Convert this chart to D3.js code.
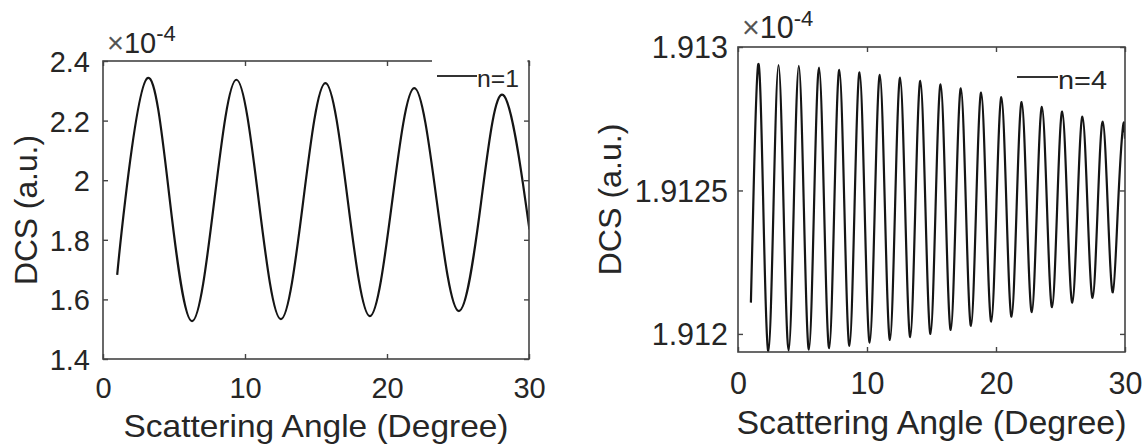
<!DOCTYPE html>
<html><head><meta charset="utf-8">
<script src="https://cdn.jsdelivr.net/npm/d3@7"></script>
<style>
body{margin:0;background:#fff}
text{font-family:Arial,"Liberation Sans",sans-serif;fill:#262626}
</style>
</head><body>
<svg id="c" width="1146" height="447"></svg>
<script>
// ---------- data (values in units of 1e-4) ----------
const angles1 = [1.0, 1.57, 3.14, 4.70, 6.27, 7.84, 9.40, 10.97, 12.53, 14.10, 15.66, 17.23, 18.79, 20.36, 21.92, 23.49, 25.05, 26.62, 28.18, 29.75, 30.0];
const dcs1    = [1.682, 1.935, 2.343, 1.935, 1.527, 1.932, 2.337, 1.930, 1.534, 1.930, 2.326, 1.935, 1.544, 1.927, 2.309, 1.935, 1.561, 1.924, 2.286, 1.930, 1.845];

const angles4 = [1.0, 1.178, 1.571, 1.963, 2.356, 2.749, 3.142, 3.534, 3.927, 4.320, 4.712, 5.105, 5.498, 5.890, 6.283, 6.676, 7.069, 7.461, 7.854, 8.247, 8.639, 9.032, 9.425, 9.817, 10.210, 10.603, 10.996, 11.388, 11.781, 12.174, 12.566, 12.959, 13.352, 13.744, 14.137, 14.530, 14.923, 15.315, 15.708, 16.101, 16.493, 16.886, 17.279, 17.671, 18.064, 18.457, 18.850, 19.242, 19.635, 20.028, 20.420, 20.813, 21.206, 21.598, 21.991, 22.384, 22.777, 23.169, 23.562, 23.955, 24.347, 24.740, 25.133, 25.525, 25.918, 26.311, 26.704, 27.096, 27.489, 27.882, 28.274, 28.667, 29.060, 29.452, 29.845, 30.0];
const dcs4 = [1.912109, 1.91244, 1.912940, 1.91244, 1.911940, 1.91244, 1.912937, 1.91244, 1.911942, 1.91244, 1.912934, 1.91244, 1.911945, 1.91244, 1.912928, 1.91244, 1.911950, 1.91244, 1.912920, 1.91244, 1.911958, 1.91244, 1.912912, 1.91244, 1.911970, 1.91244, 1.912903, 1.91244, 1.911979, 1.91244, 1.912893, 1.91244, 1.911989, 1.91244, 1.912882, 1.91244, 1.912000, 1.91244, 1.912870, 1.91244, 1.912014, 1.91244, 1.912856, 1.91244, 1.912028, 1.91244, 1.912841, 1.91244, 1.912043, 1.91244, 1.912825, 1.91244, 1.912060, 1.91244, 1.912808, 1.91244, 1.912076, 1.91244, 1.912791, 1.91244, 1.912093, 1.91244, 1.912775, 1.91244, 1.912109, 1.91244, 1.912757, 1.91244, 1.912126, 1.91244, 1.912740, 1.91244, 1.912145, 1.91244, 1.912723, 1.912680];

const xTicks  = [0, 10, 20, 30];
const yTicks1 = [1.4, 1.6, 1.8, 2, 2.2, 2.4];
const yTicks4 = [1.912, 1.9125, 1.913];
const xDomain = [0, 30];
const yDomain1 = [1.4, 2.4];
const yDomain4 = [1.911937, 1.913];
const legend1 = "n=1", legend4 = "n=4";
const xTitle = "Scattering Angle (Degree)";
const yTitle = "DCS (a.u.)";
const exponent = "-4";

// ---------- layout ----------
const svg = d3.select("#c");
const panels = [
  {id:"p1", xs:angles1, ys:dcs1, yTicks:yTicks1, yDomain:yDomain1, legend:legend1,
   L:103, R:529, T:61, B:359, fs:29, yPad:13, xLabBase:39, titleBase:437, titleFs:32, titleW:385, ytX:37, ytFs:31, ytW:150,
   expX:107, expBase:53, supFs:22, legLine:[437,477], legY:76, legTextBase:87, legFs:24, legW:42, legendMask:[432,527.5]},
  {id:"p4", xs:angles4, ys:dcs4, yTicks:yTicks4, yDomain:yDomain4, legend:legend4,
   L:738, R:1125, T:47, B:352, fs:30.5, yPad:10, xLabBase:42, titleBase:434, titleFs:33, titleW:390, ytX:621, ytFs:31, ytW:152,
   expX:742, expBase:38, supFs:22, legLine:[1017,1058], legY:77, legTextBase:89, legFs:25, legW:49, legendMask:null}
];

panels.forEach(p => {
  const x = d3.scaleLinear().domain(xDomain).range([p.L, p.R]);
  const y = d3.scaleLinear().domain(p.yDomain).range([p.B, p.T]);
  const g = svg.append("g");

  g.append("clipPath").attr("id", "clip"+p.id).append("rect")
    .attr("x", p.L).attr("y", p.T).attr("width", p.R-p.L).attr("height", p.B-p.T);

  // curve
  const line = d3.line().x((d,i)=>x(p.xs[i])).y(d=>y(d)).curve(d3.curveNatural);
  g.append("path").datum(p.ys).attr("d", line)
    .attr("fill","none").attr("stroke","#151515").attr("stroke-width",2.2)
    .attr("clip-path","url(#clip"+p.id+")");

  // box
  g.append("rect").attr("x",p.L).attr("y",p.T).attr("width",p.R-p.L).attr("height",p.B-p.T)
    .attr("fill","none").attr("stroke","#444").attr("stroke-width",1.6);

  const styleAxis = sel => {
    sel.select(".domain").remove();
    sel.selectAll(".tick line").attr("stroke","#444").attr("stroke-width",1.4);
    sel.selectAll("text").attr("fill","#262626").attr("font-family","Arial, 'Liberation Sans', sans-serif");
  };

  // bottom
  const padB = p.xLabBase - 0.71*p.fs;
  g.append("g").attr("transform",`translate(0,${p.B})`)
    .call(d3.axisBottom(x).tickValues(xTicks).tickSizeInner(-5).tickSizeOuter(0).tickPadding(padB).tickFormat(d3.format("d")))
    .call(styleAxis).selectAll("text").attr("font-size",p.fs);
  // top
  g.append("g").attr("transform",`translate(0,${p.T})`)
    .call(d3.axisTop(x).tickValues(xTicks).tickSizeInner(-5).tickSizeOuter(0).tickFormat(""))
    .call(styleAxis);
  // left
  g.append("g").attr("transform",`translate(${p.L},0)`)
    .call(d3.axisLeft(y).tickValues(p.yTicks).tickSizeInner(-5).tickSizeOuter(0).tickPadding(p.yPad).tickFormat(d3.format("")))
    .call(styleAxis).selectAll("text").attr("font-size",p.fs).attr("dy","0.36em");
  // right
  g.append("g").attr("transform",`translate(${p.R},0)`)
    .call(d3.axisRight(y).tickValues(p.yTicks).tickSizeInner(-5).tickSizeOuter(0).tickFormat(""))
    .call(styleAxis);

  // legend
  if (p.legendMask) {
    g.append("rect").attr("x",p.legendMask[0]).attr("y",p.T-6)
      .attr("width",p.legendMask[1]-p.legendMask[0]).attr("height",10).attr("fill","#fff");
  }
  g.append("line").attr("x1",p.legLine[0]).attr("x2",p.legLine[1]).attr("y1",p.legY).attr("y2",p.legY)
    .attr("stroke","#333").attr("stroke-width",2);
  g.append("text").attr("x",p.legLine[1]).attr("y",p.legTextBase).attr("font-size",p.legFs)
    .attr("textLength",p.legW).attr("lengthAdjust","spacingAndGlyphs").text(p.legend);

  // exponent
  const ex = g.append("text").attr("x",p.expX).attr("y",p.expBase).attr("font-size",p.fs);
  ex.append("tspan").attr("fill","#555").text("\u00d7");
  ex.append("tspan").text("10");
  ex.append("tspan").attr("dy",-12).attr("font-size",p.supFs).text(exponent);

  // titles
  g.append("text").attr("x",(p.L+p.R)/2).attr("y",p.titleBase).attr("text-anchor","middle")
    .attr("font-size",p.titleFs).attr("textLength",p.titleW).attr("lengthAdjust","spacingAndGlyphs").text(xTitle);
  g.append("text").attr("transform",`translate(${p.ytX},${(p.T+p.B)/2}) rotate(-90)`)
    .attr("text-anchor","middle").attr("font-size",p.ytFs)
    .attr("textLength",p.ytW).attr("lengthAdjust","spacingAndGlyphs").text(yTitle);
});
</script>
</body></html>
